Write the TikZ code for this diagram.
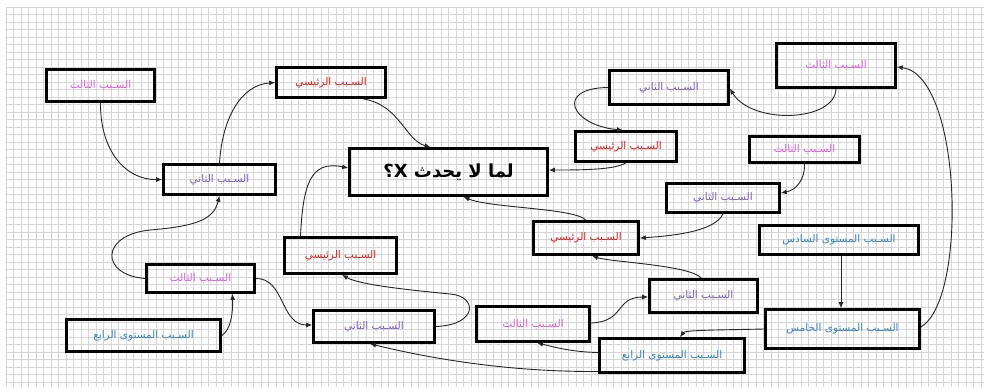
\documentclass[tikz,border=0pt]{standalone}
\usepackage{fontspec}
\newfontfamily\arabicfont[Script=Arabic]{DejaVu Sans}
\TeXXeTstate=1
\usetikzlibrary{arrows.meta,calc}
\definecolor{cpink}{RGB}{228,90,228}
\definecolor{cred}{RGB}{228,30,30}
\definecolor{cpurple}{RGB}{125,95,195}
\definecolor{cblue}{RGB}{55,130,200}
\begin{document}
\begin{tikzpicture}[x=1pt,y=-1pt,
  gridline/.style={draw=black!16, line width=0.8pt},
  box/.style={draw=black, line width=2.6pt, inner sep=0pt, align=center,
    font=\arabicfont\fontsize{10.5}{12}\selectfont},
  arr/.style={-{Latex[length=6pt,width=5pt]}, line width=0.9pt, draw=black!85}]
\fill[white] (0,0) rectangle (988,391);
\useasboundingbox (0,0) rectangle (988,391);
\foreach \i in {0,...,130} {\draw[gridline] ({6+7.5*\i},7) -- ({6+7.5*\i},387);}
\foreach \j in {0,...,50} {\draw[gridline] (6,{7+7.5*\j}) -- (984,{7+7.5*\j});}

% nodes
\node[box, minimum width=108, minimum height=32, text=cpink] (n1) at (100.5,85.5) {\beginR السـبب الثالث\endR};
\node[box, minimum width=109, minimum height=30, text=cred] (n2) at (331,82.5) {\beginR السـبب الرئيسي\endR};
\node[box, minimum width=112, minimum height=30, text=cpurple] (n3) at (219.5,179.5) {\beginR السـبب الثاني\endR};
\node[box, minimum width=198, minimum height=47, text=black, font=\arabicfont\bfseries\fontsize{18}{20}\selectfont] (n4) at (448.5,172) {\beginR لما لا يحدث X\hbox{؟}\endR};
\node[box, minimum width=119, minimum height=34, text=cpurple] (n5) at (669,87.5) {\beginR السـبب الثاني\endR};
\node[box, minimum width=101, minimum height=30, text=cred] (n6) at (626,146.5) {\beginR السـبب الرئيسي\endR};
\node[box, minimum width=119, minimum height=44, text=cpink] (n7) at (836,65.5) {\beginR السـبب الثالث\endR};
\node[box, minimum width=110, minimum height=26, text=cpink] (n8) at (804.5,149.5) {\beginR السـبب الثالث\endR};
\node[box, minimum width=113, minimum height=29, text=cpurple] (n9) at (723,198) {\beginR السـبب الثاني\endR};
\node[box, minimum width=105, minimum height=33, text=cred] (n10) at (586,238) {\beginR السـبب الرئيسي\endR};
\node[box, minimum width=112, minimum height=36, text=cred] (n11) at (340.5,255.5) {\beginR السـبب الرئيسي\endR};
\node[box, minimum width=108, minimum height=28, text=cpink] (n12) at (200.5,278.5) {\beginR السـبب الثالث\endR};
\node[box, minimum width=154, minimum height=32, text=cblue] (n13) at (143.5,335.5) {\beginR السـبب المستوى الرابع\endR};
\node[box, minimum width=121, minimum height=32, text=cpurple] (n14) at (374,326.5) {\beginR السـبب الثاني\endR};
\node[box, minimum width=113, minimum height=35, text=cpink] (n15) at (533,324) {\beginR السـبب الثالث\endR};
\node[box, minimum width=108, minimum height=33, text=cpurple] (n16) at (703.5,296) {\beginR السـبب الثاني\endR};
\node[box, minimum width=145, minimum height=34, text=cblue] (n17) at (672,355.5) {\beginR السـبب المستوى الرابع\endR};
\node[box, minimum width=159, minimum height=29, text=cblue] (n18) at (839,240) {\beginR السـبب المستوى السادس\endR};
\node[box, minimum width=154, minimum height=39, text=cblue] (n19) at (842.5,329) {\beginR السـبب المستوى الخامس\endR};

% connectors
\draw[arr] (n1.south) .. controls (100,150) and (125,180) .. (n3.west);
\draw[arr] (n3.north) .. controls (222,120) and (240,85) .. (n2.west);
\draw[arr] ($(n2.south)+(32,0)$) .. controls (400,105) and (405,140) .. ($(n4.north)+(-18,0)$);
\draw[arr] (n6.south) .. controls (615,170) and (580,170) .. ($(n4.east)+(0,-2)$);
\draw[arr] (n5.west) .. controls (555,88) and (570,125) .. ($(n6.north)+(-3,0)$);
\draw[arr] (n7.south) .. controls (835,122) and (752,125) .. ($(n5.east)+(0,1)$);
\draw[arr] (n8.south) .. controls (805,180) and (796,190) .. ($(n9.east)+(0,-5)$);
\draw[arr] ($(n19.east)+(0,-2)$) .. controls (968,300) and (962,75) .. ($(n7.east)+(0,1.5)$);
\draw[arr] (n9.south) .. controls (715,232) and (670,236) .. (n10.east);
\draw[arr] (n10.north) .. controls (575,208) and (490,208) .. ($(n4.south)+(15,0)$);
\draw[arr] ($(n16.north)+(-2,0)$) .. controls (690,265) and (610,262) .. ($(n10.south)+(6,0)$);
\draw[arr] ($(n18.south)+(2,0)$) -- ($(n19.north)+(-1.5,0)$);
\draw[arr] (n19.west) .. controls (720,330) and (685,330) .. ($(n17.north)+(8,0)$);
\draw[arr] ($(n15.east)+(0,-1)$) .. controls (625,322) and (615,297) .. ($(n16.west)+(0,1)$);
\draw[arr] ($(n17.west)+(0,-3)$) .. controls (570,352) and (550,346) .. ($(n15.south)+(4,0)$);
\draw[arr] ($(n17.west)+(0,16)$) .. controls (500,372) and (420,356) .. ($(n14.south)+(-4,0)$);
\draw[arr] (n14.east) .. controls (478,325) and (478,296) .. (450,294) .. controls (410,290) and (360,285) .. ($(n11.south)+(1.5,0)$);
\draw[arr] ($(n11.north)+(-40,0)$) .. controls (303,185) and (310,160) .. ($(n4.west)+(0,-4)$);
\draw[arr] (n12.west) .. controls (100,275) and (100,235) .. (150,230) .. controls (200,226) and (214,218) .. (n3.south);
\draw[arr] (n13.east) .. controls (231,330) and (233,312) .. ($(n12.south)+(32,0)$);
\draw[arr] (n12.east) .. controls (285,278) and (280,325) .. ($(n14.west)+(0,-1.5)$);
\end{tikzpicture}
\end{document}
